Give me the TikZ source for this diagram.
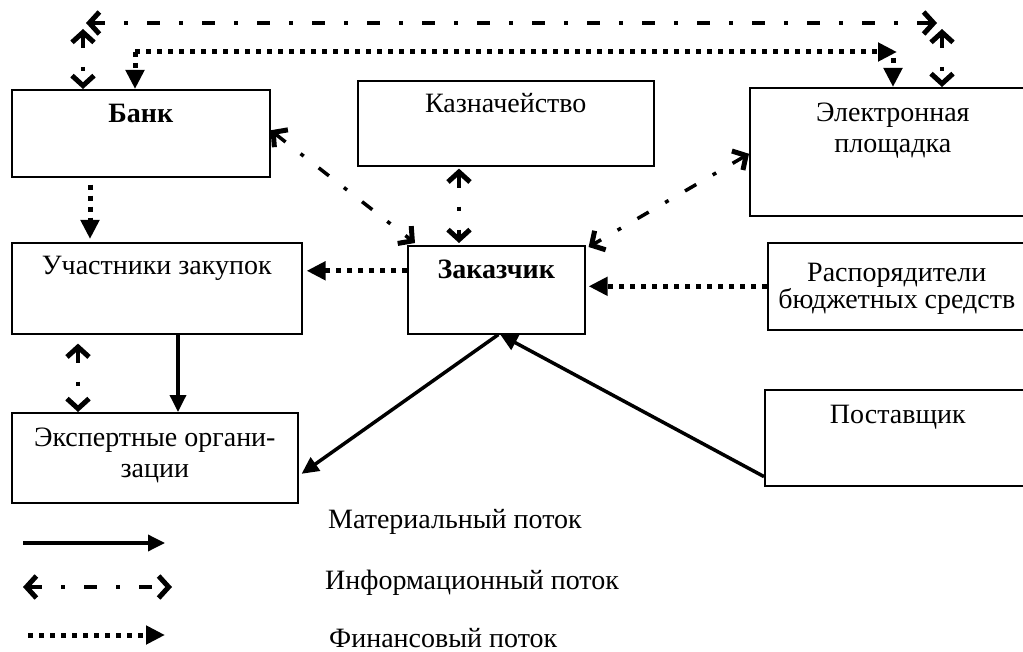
\documentclass[tikz,border=0pt]{standalone}
\usepackage{fontspec}
\setmainfont{Liberation Serif}
\usepackage{tikz}
\usetikzlibrary{arrows.meta,positioning}

\tikzset{
  box/.style={draw, line width=1.6pt, anchor=north west, inner sep=0pt},
  lbl/.style={inner sep=0pt, align=center},
  barb/.tip={Straight Barb[length=10pt,width=22pt,line width=5pt,color=black]},
  matflow/.style={line width=3.5pt, -{Triangle[length=17pt,width=16pt]}},
  infoflow/.style={line width=3.5pt, draw=white, barb-barb,
    postaction={draw=black, -, dash pattern=on 13pt off 19pt on 4pt off 19pt,
      shorten <=6pt, shorten >=6pt}},
  finflow/.style={line width=5pt, dash pattern=on 5pt off 6pt, -{Triangle[length=19pt,width=18pt]}},
}

\begin{document}
\begin{tikzpicture}[x=1pt, y=-1pt, font=\fontsize{28}{31}\selectfont]
  \useasboundingbox (0,0) rectangle (1023,652);
  \clip (0,0) rectangle (1023,652);
  % Kaesten
  \node[box, minimum width=258pt, minimum height=87pt] (bank) at (11,89) {};
  \node[box, minimum width=296pt, minimum height=85pt] (kazn) at (357,80) {};
  \node[box, minimum width=286pt, minimum height=128pt] (plat) at (749,87) {};
  \node[box, minimum width=290pt, minimum height=91pt] (part) at (11,242) {};
  \node[box, minimum width=177pt, minimum height=88pt] (cust) at (407,245) {};
  \node[box, minimum width=258pt, minimum height=87pt] (rasp) at (767,242) {};
  \node[box, minimum width=286pt, minimum height=90pt] (expert) at (11,412) {};
  \node[box, minimum width=266pt, minimum height=96pt] (supp) at (764,389) {};
  % Texte
  \node[lbl, anchor=base] (bankt) at (bank.north |- 0,123) {\textbf{Банк}};
  \node[lbl, anchor=base] (kaznt) at (kazn.north |- 0,113) {Казначейство};
  \node[lbl, anchor=north] (platt) at (plat.north |- 0,103) {Электронная\\площадка};
  \node[lbl, anchor=base] (partt) at (part.north |- 0,275) {Участники закупок};
  \node[lbl, anchor=base] (custt) at (cust.north |- 0,279) {\textbf{Заказчик}};
  \node[lbl, anchor=north, font=\fontsize{28}{27}\selectfont] (raspt) at (rasp.north |- 0,263) {Распорядители\\бюджетных средств};
  \node[lbl, anchor=north] (expertt) at (expert.north |- 0,428) {Экспертные органи-\\зации};
  \node[lbl, anchor=base] (suppt) at (supp.north |- 0,423) {Поставщик};
  % Pfeile oben
  \coordinate (itl) at (86,23);
  \coordinate (itr) at (937,23);
  \coordinate (ivl) at (83,29);
  \coordinate (ivr) at (942,29);
  \coordinate (ftl) at (135,52);
  \coordinate (ftr) at (897,52);
  \coordinate (fvr) at (893,58);
  \draw[infoflow] (itl) -- (itr);
  \draw[infoflow] (ivl) -- ([xshift=72pt]bank.north west);
  \draw[infoflow] (ivr) -- ([xshift=193pt]plat.north west);
  \draw[finflow] (ftl) -- ([xshift=124pt]bank.north west);
  \draw[finflow] (ftl |- ftr) -- (ftr);
  \draw[finflow] (fvr) -- ([xshift=144pt]plat.north west);
  % Pfeile Mitte
  \draw[finflow, shorten >=3pt] ([xshift=79pt, yshift=-7pt]bank.south west) -- ([xshift=79pt]part.north west);
  \draw[infoflow] ([yshift=3pt]bank.east) -- ([xshift=8pt, yshift=2pt]cust.north west);
  \draw[infoflow] ([xshift=102pt, yshift=-2pt]kazn.south west) -- ([xshift=52pt, yshift=2pt]cust.north west);
  \draw[infoflow] ([yshift=-2pt]plat.west) -- ([xshift=3pt, yshift=-2pt]cust.north east);
  \draw[finflow, shorten >=4pt] ([yshift=19pt]cust.west) -- ([yshift=19pt]cust.west -| part.east);
  \draw[finflow, shorten >=3pt] (rasp.west) -- (rasp.west -| cust.east);
  % Pfeile unten
  \draw[infoflow] ([xshift=67pt, yshift=-9pt]part.south west) -- ([xshift=67pt]expert.north west);
  \draw[matflow] ([xshift=167pt]part.south west) -- ([xshift=167pt]expert.north west);
  \draw[matflow] ([xshift=2pt]cust.south) -- ([xshift=3pt, yshift=-16pt]expert.east);
  \draw[matflow] ([yshift=10pt]supp.south west) -- ([xshift=4pt]cust.south);
  % Legende
  \coordinate (lma) at (23,543);
  \coordinate (lmb) at (165,543);
  \coordinate (lia) at (23,587);
  \coordinate (lib) at (172,587);
  \coordinate (lfa) at (28,635);
  \coordinate (lfb) at (165,635);
  \draw[matflow] (lma) -- (lmb);
  \draw[infoflow, postaction={dash phase=16pt}] (lia) -- (lib);
  \draw[finflow] (lfa) -- (lfb);
  \node[lbl, anchor=west] (lmt) at (328,522) {Материальный поток};
  \node[lbl, anchor=west] (lit) at (325,583) {Информационный поток};
  \node[lbl, anchor=west] (lft) at (329,638) {Финансовый поток};
\end{tikzpicture}
\end{document}
